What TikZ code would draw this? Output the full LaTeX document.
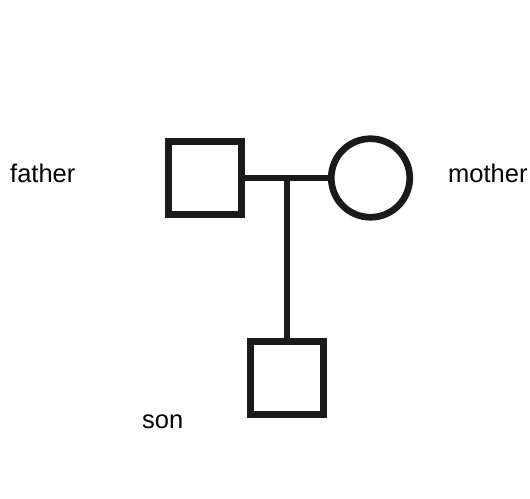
\documentclass[tikz,border=0pt]{standalone}
\usepackage{fontspec}
\setmainfont{Liberation Sans}
\definecolor{ink}{RGB}{26,26,26}
\begin{document}
\begin{tikzpicture}[x=1pt,y=-1pt,
  male/.style={draw=ink,line width=6.7pt,rectangle,minimum size=73.5pt,inner sep=0pt},
  female/.style={draw=ink,line width=6.7pt,circle,minimum size=78.5pt,inner sep=0pt},
  link/.style={draw=ink,line width=6.7pt},
  lbl/.style={anchor=base west,inner sep=0pt,font=\fontsize{25.5pt}{30pt}\selectfont,text=black}]
\useasboundingbox (0,0) rectangle (530,498);
\node[male] (father) at (205,178) {};
\node[female] (mother) at (370.5,178) {};
\node[male] (son) at (287,378) {};
\draw[link] (father.east) -- (mother.west);
\coordinate (mid) at (287,178);
\draw[link] (mid) -- (son.north);
\node[lbl] (lf) at (10,182) {father};
\node[lbl] (lm) at (448,182) {mother};
\node[lbl] (ls) at (142,428) {son};
\end{tikzpicture}
\end{document}
